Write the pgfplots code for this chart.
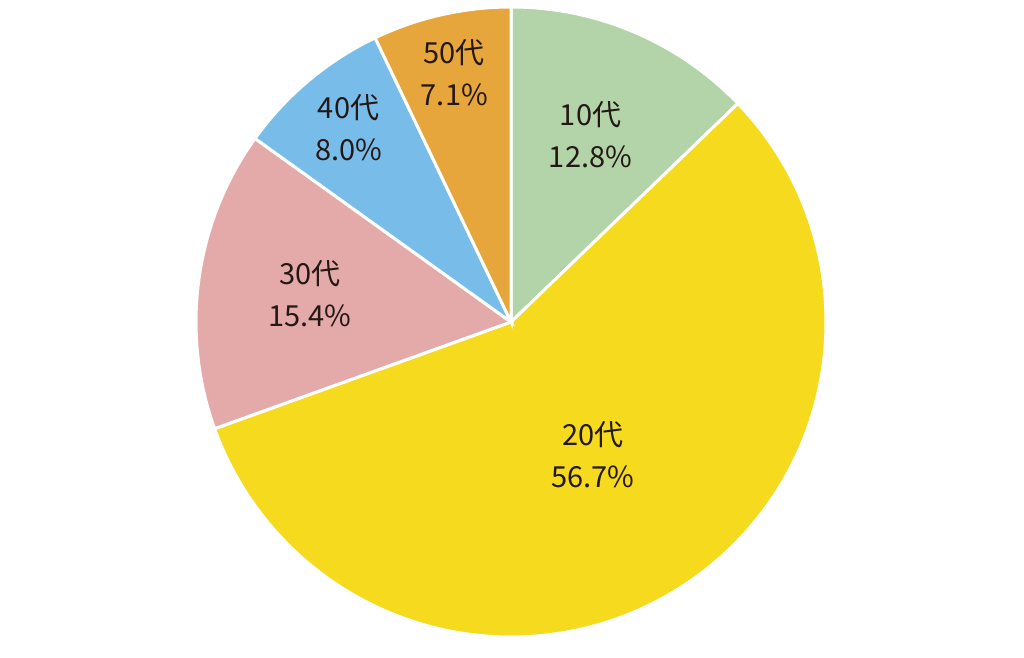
\documentclass[border=0pt]{standalone}
\usepackage{pgfplots}
\usepackage{pgfplotstable}
\pgfplotsset{compat=1.18}
\usepackage{fontspec}
\newfontfamily\jp{Noto Sans CJK JP}
\definecolor{c10}{HTML}{B3D4A8}
\definecolor{c20}{HTML}{F6DA1E}
\definecolor{c30}{HTML}{E4AAA9}
\definecolor{c40}{HTML}{78BDEA}
\definecolor{c50}{HTML}{E6A63C}
\definecolor{txt}{HTML}{231815}
\pgfplotstableread{
label value color dist
10代 12.8 c10 0.645
20代 56.7 c20 0.494
30代 15.4 c30 0.645
40代 8.0 c40 0.803
50代 7.1 c50 0.813
}\piedata
\begin{document}
\begin{tikzpicture}
\begin{axis}[
  hide axis, scale only axis,
  width=512pt, height=320pt,
  xmin=0, xmax=1024, ymin=0, ymax=640,
  clip=false,
]
\addplot[draw=none] coordinates {(0,0) (1024,640)};
\pgfplotsextra{
  \pgfplotstablegetrowsof{\piedata}\let\nrows\pgfplotsretval
  \pgfmathtruncatemacro\lastrow{\nrows-1}
  \xdef\curangle{90}
  \foreach \i in {0,...,\lastrow} {
    \pgfplotstablegetelem{\i}{value}\of\piedata \let\pv\pgfplotsretval
    \pgfplotstablegetelem{\i}{color}\of\piedata \let\pc\pgfplotsretval
    \pgfplotstablegetelem{\i}{label}\of\piedata \let\pl\pgfplotsretval
    \pgfplotstablegetelem{\i}{dist}\of\piedata \let\pd\pgfplotsretval
    \pgfmathsetmacro\endangle{\curangle-3.6*\pv}
    \pgfmathsetmacro\midangle{(\curangle+\endangle)/2}
    \fill[\pc, draw=white, line width=1.5pt, line join=miter]
      (axis cs:511,318) -- ++(\curangle:157.5pt)
      arc[start angle=\curangle, end angle=\endangle, radius=157.5pt] -- cycle;
    \node[align=center, text=txt, font={\jp\fontsize{14.5pt}{21pt}\selectfont}]
      at ([shift={(\midangle:\pd*157.5pt)}]axis cs:511,318) {\pl\\\pv\%};
    \xdef\curangle{\endangle}
  }
}
\end{axis}
\end{tikzpicture}
\end{document}
